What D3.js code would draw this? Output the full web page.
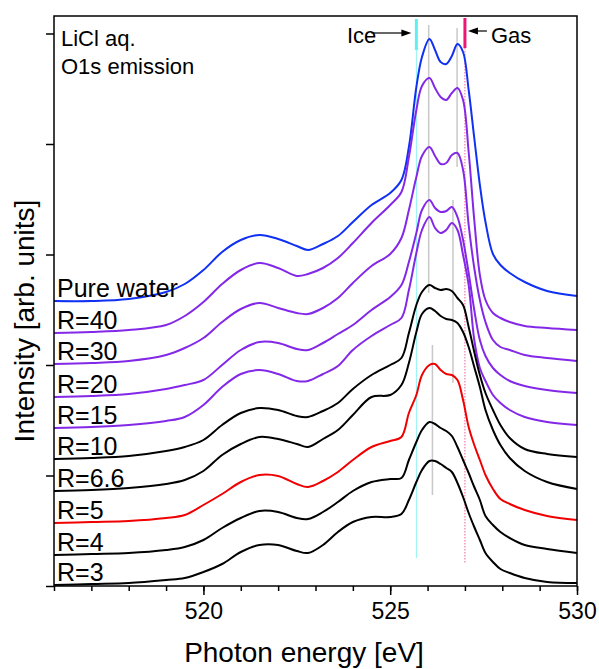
<html>
<head>
    <script src="https://cdn.jsdelivr.net/npm/d3@7/dist/d3.min.js"></script>
    <style>
        body { margin: 0; background: #fff; }
        text { font-family: "Liberation Sans", Arial, sans-serif; fill: #000; }
    </style>
</head>
<body>
    <script>

        // photon energy grid [eV], shared by every spectrum
        var energy = [516, 517, 518, 519, 519.5, 520, 520.5, 521, 521.5, 522, 522.5, 522.8,
                      523.2, 523.6, 524, 524.5, 525, 525.3, 525.5, 525.7, 525.85, 526.05,
                      526.2, 526.35, 526.5, 526.65, 526.8, 526.95, 527.1, 527.25, 527.4,
                      527.55, 527.75, 527.95, 528.2, 528.6, 529.2, 530];

        // O1s emission intensity [arb. units], already stacked (offset) as in the figure
        var pureWater = [285, 285, 287, 294, 302, 316, 334, 346, 351, 347, 340, 336, 342, 350, 364, 381, 393, 406, 439,
                         499, 529, 547, 536, 524, 522, 530, 542, 534, 496, 448, 401, 364, 332, 321, 313, 304, 295, 290];
        var r40 = [253, 254, 256, 261, 270, 284, 302, 316, 323, 318, 310, 312, 318, 328, 343, 363, 381, 394, 429,
                   476, 500, 508, 498, 489, 486, 493, 498, 486, 434, 366, 311, 286, 273, 268, 264, 260, 258, 256];
        var r30 = [222, 223, 225, 231, 238, 248, 264, 277, 283, 278, 273, 272, 278, 288, 303, 320, 332, 348, 376,
                   409, 430, 439, 430, 422, 423, 431, 433, 416, 361, 318, 286, 264, 246, 239, 236, 231, 228, 225];
        var r20 = [189, 190, 192, 197, 201, 206, 221, 236, 244, 243, 237, 236, 243, 252, 261, 276, 289, 301, 324,
                   353, 376, 386, 378, 374, 375, 379, 369, 346, 313, 276, 246, 230, 218, 211, 205, 200, 196, 193];
        var r15 = [158, 159, 161, 165, 169, 181, 199, 212, 216, 212, 205, 205, 212, 220, 236, 250, 261, 268, 296,
                   333, 356, 369, 358, 353, 356, 363, 356, 331, 301, 246, 218, 205, 191, 183, 176, 169, 164, 161];
        var r10 = [127, 128, 130, 135, 139, 146, 161, 173, 178, 176, 170, 169, 175, 183, 197, 211, 221, 228, 253,
                   281, 294, 301, 298, 296, 297, 295, 288, 281, 259, 234, 211, 193, 176, 161, 148, 137, 132, 129];
        var r66 = [95, 96, 98, 102, 106, 115, 131, 142, 149, 147, 142, 139, 147, 156, 171, 189, 191, 201, 223,
                   254, 272, 278, 275, 270, 267, 266, 263, 254, 239, 219, 199, 176, 156, 141, 128, 115, 104, 97];
        var r5 = [63, 64, 65, 68, 71, 81, 92, 104, 111, 110, 102, 99, 105, 114, 126, 139, 145, 149, 173,
                  191, 211, 221, 222, 216, 212, 211, 206, 186, 159, 141, 126, 111, 97, 87, 82, 76, 70, 66];
        var r4 = [31, 32, 33, 36, 39, 46, 58, 68, 75, 74, 68, 67, 74, 84, 95, 104, 107, 108, 126,
                  144, 156, 164, 162, 158, 155, 150, 139, 126, 113, 99, 86, 70, 61, 54, 48, 41, 37, 33];
        var r3 = [1, 2, 3, 6, 8, 14, 22, 34, 41, 41, 35, 33, 41, 54, 64, 69, 69, 72, 86,
                  104, 116, 125, 125, 122, 118, 114, 103, 89, 73, 59, 46, 33, 24, 17, 13, 8, 4, 3];

        var seriesLabels = ["Pure water", "R=40", "R=30", "R=20", "R=15", "R=10", "R=6.6", "R=5", "R=4", "R=3"];
        var series = [pureWater, r40, r30, r20, r15, r10, r66, r5, r4, r3];

        // axis ticks
        var xMajorTicks = [520, 525, 530];
        var xMinorTicks = d3.range(516, 531, 1);
        var yTicks = [0, 110.5, 221, 331.5, 442, 552.5];

        // grey guide lines at the peak positions (energy, top, bottom in intensity units)
        var peakLineEnergy = [526.03, 526.79, 526.68, 526.13];
        var peakLineTop = [561, 558, 386, 241];
        var peakLineBottom = [293, 419, 203, 91];

        // ice / gas reference energies
        var iceEnergy = 525.7, gasEnergy = 527.0;

        // styles
        var colours = ["#1030f2", "#8428e8", "#8428e8", "#8428e8", "#8428e8",
                       "#000", "#000", "#f00000", "#000", "#000"];

        // plot box (window.top is reserved, so no bare "top" here)
        var width = 599, height = 669;
        var plotLeft = 54, plotRight = 577, plotTop = 16, plotBottom = 586;

        var svg = d3.select("body")
            .append("svg")
            .attr("width", width)
            .attr("height", height);

        var x = d3.scaleLinear().domain([516, 530]).range([plotLeft, plotRight]);
        var y = d3.scaleLinear().domain([0, 570]).range([plotBottom, plotTop]);

        // grey peak guides
        svg.append("g")
            .selectAll("line")
            .data(peakLineEnergy)
            .enter()
            .append("line")
            .attr("x1", function (d) { return x(d); })
            .attr("x2", function (d) { return x(d); })
            .attr("y1", function (d, i) { return y(peakLineTop[i]); })
            .attr("y2", function (d, i) { return y(peakLineBottom[i]); })
            .attr("stroke", "#c8c8c8")
            .attr("stroke-width", 1.5);

        // ice line: thick on top, thin below
        svg.append("line")
            .attr("x1", x(iceEnergy)).attr("x2", x(iceEnergy))
            .attr("y1", y(536)).attr("y2", y(28))
            .attr("stroke", "#8ff4f4").attr("stroke-width", 1);
        svg.append("line")
            .attr("x1", x(iceEnergy)).attr("x2", x(iceEnergy))
            .attr("y1", y(567)).attr("y2", y(536))
            .attr("stroke", "#5ef0f0").attr("stroke-width", 3);

        // gas line: thick on top, dotted below
        svg.append("line")
            .attr("x1", x(gasEnergy)).attr("x2", x(gasEnergy))
            .attr("y1", y(538)).attr("y2", y(22))
            .attr("stroke", "#f0609a").attr("stroke-width", 1)
            .attr("stroke-dasharray", "1.5,1.5");
        svg.append("line")
            .attr("x1", x(gasEnergy)).attr("x2", x(gasEnergy))
            .attr("y1", y(568)).attr("y2", y(538))
            .attr("stroke", "#ee1672").attr("stroke-width", 3);

        // the spectra, smooth curve through the read points
        var line = d3.line()
            .x(function (d, i) { return x(energy[i]); })
            .y(function (d) { return y(d); })
            .curve(d3.curveCatmullRom.alpha(0.5));

        svg.append("g")
            .selectAll("path")
            .data(series)
            .enter()
            .append("path")
            .attr("d", line)
            .attr("fill", "none")
            .attr("stroke", function (d, i) { return colours[i]; })
            .attr("stroke-width", 2)
            .attr("stroke-linejoin", "round");

        // curve labels sitting on the left end of each spectrum
        svg.append("g")
            .selectAll("text")
            .data(series)
            .enter()
            .append("text")
            .attr("x", plotLeft + 3)
            .attr("y", function (d) { return y(d[0]) - 4.5; })
            .style("font-size", "25px")
            .text(function (d, i) { return seriesLabels[i]; });

        // frame
        svg.append("rect")
            .attr("x", plotLeft).attr("y", plotTop)
            .attr("width", plotRight - plotLeft).attr("height", plotBottom - plotTop)
            .attr("fill", "none")
            .attr("stroke", "#000")
            .attr("stroke-width", 1.5);

        // x axis: minor ticks every 1 eV, labelled majors
        var xMinor = svg.append("g")
            .attr("transform", "translate(0," + plotBottom + ")")
            .call(d3.axisBottom(x).tickValues(xMinorTicks).tickSize(5).tickFormat(""));
        xMinor.select(".domain").remove();

        var xMajor = svg.append("g")
            .attr("transform", "translate(0," + plotBottom + ")")
            .call(d3.axisBottom(x).tickValues(xMajorTicks).tickSize(9).tickPadding(8).tickFormat(d3.format("d")));
        xMajor.select(".domain").remove();
        xMajor.selectAll("text")
            .style("font-size", "23px")
            .style("font-family", "'Liberation Sans', Arial, sans-serif");

        // y axis, unlabelled ticks
        var yAxis = svg.append("g")
            .attr("transform", "translate(" + plotLeft + ",0)")
            .call(d3.axisLeft(y).tickValues(yTicks).tickSize(8).tickFormat(""));
        yAxis.select(".domain").remove();

        svg.selectAll(".tick line").attr("stroke-width", 1.5);

        // axis titles
        svg.append("text")
            .attr("x", 304).attr("y", 662)
            .attr("text-anchor", "middle")
            .style("font-size", "28px")
            .text("Photon energy [eV]");

        svg.append("text")
            .attr("transform", "translate(34,321) rotate(-90)")
            .attr("text-anchor", "middle")
            .style("font-size", "28px")
            .text("Intensity [arb. units]");

        // sample description
        svg.append("text").attr("x", plotLeft + 7).attr("y", 46)
            .style("font-size", "22px").text("LiCl aq.");
        svg.append("text").attr("x", plotLeft + 7).attr("y", 74)
            .style("font-size", "22px").text("O1s emission");

        // Ice / Gas annotations with arrows
        function arrow(x1, x2, yy) {
            var dir = x2 > x1 ? 1 : -1;
            svg.append("line")
                .attr("x1", x1).attr("x2", x2 - dir * 9)
                .attr("y1", yy).attr("y2", yy)
                .attr("stroke", "#000").attr("stroke-width", 1.2);
            svg.append("path")
                .attr("d", "M" + x2 + "," + yy +
                           "L" + (x2 - dir * 10) + "," + (yy - 3.5) +
                           "L" + (x2 - dir * 10) + "," + (yy + 3.5) + "Z")
                .attr("fill", "#000");
        }

        svg.append("text")
            .attr("x", x(iceEnergy) - 40).attr("y", 43)
            .attr("text-anchor", "end")
            .style("font-size", "22px").text("Ice");
        arrow(x(iceEnergy) - 45, x(iceEnergy) - 5, 33);

        svg.append("text")
            .attr("x", x(gasEnergy) + 26).attr("y", 43)
            .style("font-size", "22px").text("Gas");
        arrow(x(gasEnergy) + 22, x(gasEnergy) + 3, 31);

    </script>
</body>
</html>
